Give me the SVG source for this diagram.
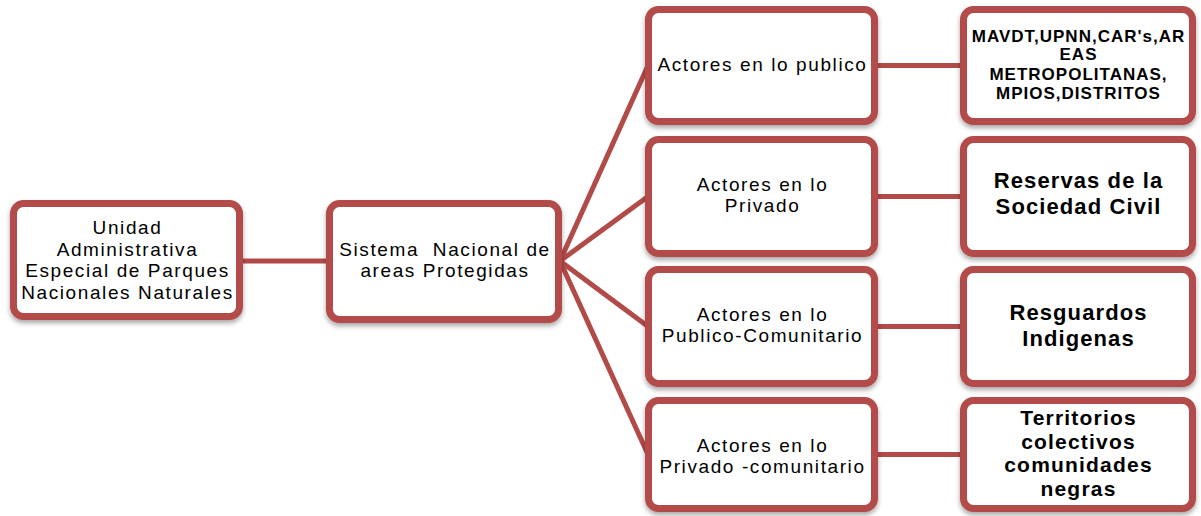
<svg xmlns="http://www.w3.org/2000/svg" width="1201" height="516" viewBox="0 0 1201 516">
<defs>
<filter id="sh" x="-10%" y="-10%" width="120%" height="130%">
<feDropShadow dx="0" dy="3" stdDeviation="2.5" flood-color="#000" flood-opacity="0.35"/>
</filter>
<style>
.box{fill:#fff;stroke:#B24B48;stroke-width:7;filter:url(#sh)}
.con line{stroke:#B24B48;stroke-width:5;stroke-linecap:round}
.r{font-family:"Liberation Sans",Arial,sans-serif;font-size:19px;letter-spacing:1.6px;text-anchor:middle;fill:#000}
.b{font-family:"Liberation Sans",Arial,sans-serif;font-weight:bold;font-size:22px;letter-spacing:1.1px;text-anchor:middle;fill:#000}
.b4{font-family:"Liberation Sans",Arial,sans-serif;font-weight:bold;font-size:21px;letter-spacing:1.2px;text-anchor:middle;fill:#000}
.bs{font-family:"Liberation Sans",Arial,sans-serif;font-weight:bold;font-size:17px;letter-spacing:1px;text-anchor:middle;fill:#000}
</style>
</defs>
<rect width="1201" height="516" fill="#fff"/>
<g class="con">
<line x1="240" y1="261" x2="330" y2="261"/>
<line x1="560" y1="261" x2="648" y2="65.5"/>
<line x1="560" y1="261" x2="648" y2="196.5"/>
<line x1="560" y1="261" x2="648" y2="326.5"/>
<line x1="560" y1="261" x2="648" y2="454.5"/>
<line x1="874" y1="65.5" x2="964" y2="65.5"/>
<line x1="874" y1="196.5" x2="964" y2="196.5"/>
<line x1="874" y1="326.5" x2="964" y2="326.5"/>
<line x1="874" y1="454.5" x2="964" y2="454.5"/>
</g>
<g id="n1">
<rect class="box" x="13.5" y="203.5" width="226" height="113" rx="10"/>
<text class="r"><tspan x="127.5" y="234">Unidad</tspan><tspan x="127.5" y="255.5">Administrativa</tspan><tspan x="127.5" y="277">Especial de Parques</tspan><tspan x="127.5" y="298.5">Nacionales Naturales</tspan></text>
</g>
<g id="n2">
<rect class="box" x="329.5" y="203.5" width="229" height="116" rx="10"/>
<text class="r" xml:space="preserve"><tspan x="445" y="256">Sistema  Nacional de</tspan><tspan x="445" y="277">areas Protegidas</tspan></text>
</g>
<g id="m1">
<rect class="box" x="648.5" y="9.5" width="226" height="112" rx="10"/>
<text class="r"><tspan x="762.5" y="71">Actores en lo publico</tspan></text>
</g>
<g id="m2">
<rect class="box" x="648.5" y="139.5" width="226" height="114" rx="10"/>
<text class="r"><tspan x="762.5" y="191">Actores en lo</tspan><tspan x="762.5" y="212">Privado</tspan></text>
</g>
<g id="m3">
<rect class="box" x="648.5" y="269.5" width="226" height="114" rx="10"/>
<text class="r"><tspan x="762.5" y="321">Actores en lo</tspan><tspan x="762.5" y="342">Publico-Comunitario</tspan></text>
</g>
<g id="m4">
<rect class="box" x="648.5" y="400.5" width="226" height="108" rx="10"/>
<text class="r"><tspan x="762.5" y="452">Actores en lo</tspan><tspan x="762.5" y="473">Privado -comunitario</tspan></text>
</g>
<g id="r1">
<rect class="box" x="963.5" y="9.5" width="229" height="112" rx="10"/>
<text class="bs"><tspan x="1078.5" y="42">MAVDT,UPNN,CAR's,AR</tspan><tspan x="1078.5" y="60">EAS</tspan><tspan x="1078.5" y="80">METROPOLITANAS,</tspan><tspan x="1078.5" y="98.5">MPIOS,DISTRITOS</tspan></text>
</g>
<g id="r2">
<rect class="box" x="963.5" y="139.5" width="229" height="114" rx="10"/>
<text class="b"><tspan x="1078.5" y="187.5">Reservas de la</tspan><tspan x="1078.5" y="213.5">Sociedad Civil</tspan></text>
</g>
<g id="r3">
<rect class="box" x="963.5" y="269.5" width="229" height="114" rx="10"/>
<text class="b"><tspan x="1078.5" y="319.5">Resguardos</tspan><tspan x="1078.5" y="346">Indigenas</tspan></text>
</g>
<g id="r4">
<rect class="box" x="963.5" y="400.5" width="229" height="108" rx="10"/>
<text class="b4"><tspan x="1078.5" y="425">Territorios</tspan><tspan x="1078.5" y="448.5">colectivos</tspan><tspan x="1078.5" y="472">comunidades</tspan><tspan x="1078.5" y="495.5">negras</tspan></text>
</g>
</svg>
